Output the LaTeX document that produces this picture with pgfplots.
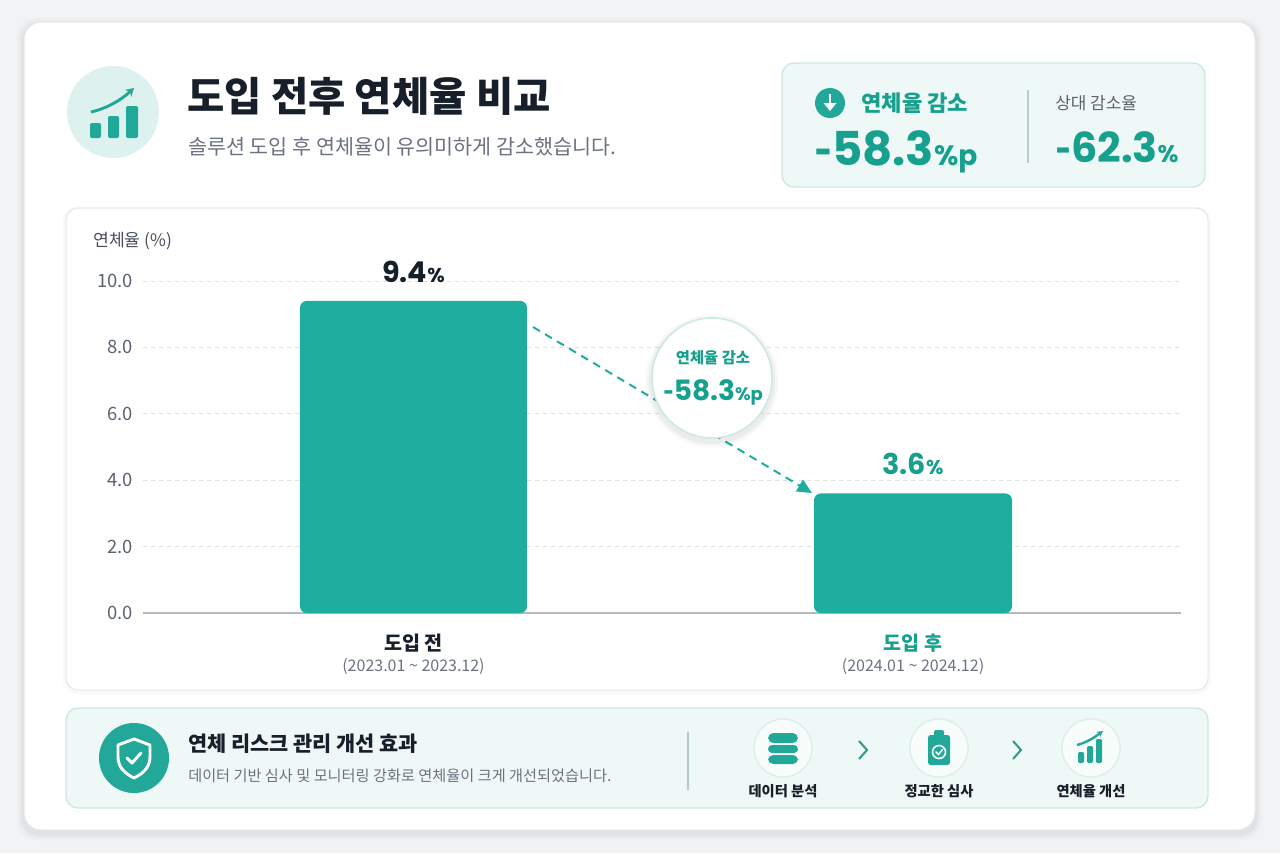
\documentclass[border=0pt]{standalone}
\usepackage{fontspec}
\setmainfont{Noto Sans CJK KR}
\newfontfamily\numfont{Poppins}
\usepackage{pgfplots}
\pgfplotsset{compat=1.18}
\usetikzlibrary{arrows.meta}
\definecolor{pagebg}{HTML}{F2F3F5}
\definecolor{cardline}{HTML}{E4E7EA}
\definecolor{tealbar}{HTML}{1DAE9F}
\definecolor{tealtxt}{HTML}{16A08D}
\definecolor{tealicon}{HTML}{21A898}
\definecolor{darktxt}{HTML}{17202A}
\definecolor{graytxt}{HTML}{6B7280}
\definecolor{ticktxt}{HTML}{5B6370}
\definecolor{softbg}{HTML}{EEF8F6}
\definecolor{softline}{HTML}{CBE8E1}
\definecolor{iconbg}{HTML}{DDF2EE}
\definecolor{gridc}{HTML}{DDE0E3}
\definecolor{basec}{HTML}{B5B9BE}
\newcommand\fs[1]{\fontsize{#1}{#1}\selectfont}
\newcommand\mn{{\rmfamily-}}
\begin{document}
\begin{tikzpicture}
\path[use as bounding box] (0pt,0pt) rectangle (960pt,-639.75pt);
\begin{scope}[x=0.75pt,y=-0.75pt]
\fill[pagebg] (0,0) rectangle (1280,853);
\foreach \d/\o in {7/0.015,5/0.02,3/0.03}{
  \fill[black,opacity=\o,rounded corners=14pt] (24-\d,22-\d+3) rectangle (1255+\d,830+\d+3);}
\fill[white,rounded corners=13pt] (24,22) rectangle (1255,830);
\draw[cardline,line width=0.75pt,rounded corners=13pt] (24,22) rectangle (1255,830);
% header icon
\fill[iconbg] (113,112) circle[radius=46];
\fill[tealicon,rounded corners=1.5pt] (90,123) rectangle (101,138);
\fill[tealicon,rounded corners=1.5pt] (108,116) rectangle (119,138);
\fill[tealicon,rounded corners=1.5pt] (126,106) rectangle (138,138);
\draw[tealicon,line width=2.2pt,-{Stealth[length=6pt,width=7pt]}] (91,112) .. controls (108,108) and (121,100) .. (134,88);
\node[anchor=west,inner sep=0,text=darktxt,font=\fs{30.4}\bfseries] at (187,96) {도입 전후 연체율 비교};
\node[anchor=west,inner sep=0,text=graytxt,font=\fs{15.5}] at (188,147) {솔루션 도입 후 연체율이 유의미하게 감소했습니다.};
% KPI box
\fill[softbg,rounded corners=9pt] (782,63) rectangle (1205,187);
\draw[softline,line width=1pt,rounded corners=9pt] (782,63) rectangle (1205,187);
\fill[tealicon] (830,103) circle[radius=15];
\draw[white,line width=2.2pt] (830,94) -- (830,105);
\fill[white] (823.5,103) -- (836.5,103) -- (830,111) -- cycle;
\node[anchor=west,inner sep=0,text=tealtxt,font=\fs{16.6}\bfseries] at (861,103) {연체율 감소};
\node[anchor=base west,inner sep=0,text=tealtxt,font=\numfont\bfseries\fs{35}] at (814,165) {\mn58.3{\fs{21}\%p}};
\draw[softline!75!gray,line width=0.9pt] (1028,90) -- (1028,163);
\node[anchor=west,inner sep=0,text=graytxt!85!black,font=\fs{12.7}] at (1055,103) {상대 감소율};
\node[anchor=base west,inner sep=0,text=tealtxt,font=\numfont\bfseries\fs{31}] at (1055,162) {\mn62.3{\fs{18}\%}};
% chart card
\fill[black,opacity=0.025,rounded corners=10pt] (63,207) rectangle (1211,694);
\fill[white,rounded corners=9pt] (66,208) rectangle (1208,690);
\draw[cardline,line width=0.75pt,rounded corners=9pt] (66,208) rectangle (1208,690);
\node[anchor=west,inner sep=0,text=ticktxt!80!black,font=\fs{12.9}] at (93,241) {연체율 (\%)};
% bottom box
\fill[softbg,rounded corners=9pt] (66,708) rectangle (1208,808);
\draw[softline,line width=1pt,rounded corners=9pt] (66,708) rectangle (1208,808);
\fill[tealicon] (134,758) circle[radius=35];
\draw[white,line width=2.2pt,line join=round] (134,739) -- (150,745) -- (150,757) .. controls (150,768) and (142,774) .. (134,778) .. controls (126,774) and (118,768) .. (118,757) -- (118,745) -- cycle;
\draw[white,line width=2.2pt,line cap=round,line join=round] (127,758) -- (132,763) -- (141,753);
\node[anchor=west,inner sep=0,text=darktxt,font=\fs{15.6}\bfseries] at (188,744) {연체 리스크 관리 개선 효과};
\node[anchor=west,inner sep=0,text=graytxt,font=\fs{11.4}] at (188,776) {데이터 기반 심사 및 모니터링 강화로 연체율이 크게 개선되었습니다.};
\draw[softline!70!gray,line width=0.8pt] (688,732) -- (688,790);
\foreach \cx in {783,939,1091}{
  \fill[white!60!softbg] (\cx,748) circle[radius=29];
  \draw[softline!70!white,line width=1pt] (\cx,748) circle[radius=29];}
% database icon
\fill[tealicon,rounded corners=4pt] (768,733) rectangle (798,743);
\fill[tealicon,rounded corners=3pt] (768,745) rectangle (798,753);
\fill[tealicon,rounded corners=4pt] (768,755) rectangle (798,764);
% clipboard icon
\fill[tealicon,rounded corners=2pt] (928,735) rectangle (950,765);
\fill[tealicon,rounded corners=1.5pt] (934,730) rectangle (944,737);
\draw[white,line width=1.2pt] (939,752) circle[radius=6.5];
\draw[white,line width=1.1pt,line cap=round] (936,752) -- (938.5,754.5) -- (942.5,749.5);
% chart icon
\fill[tealicon,rounded corners=1pt] (1078,752) rectangle (1084,763);
\fill[tealicon,rounded corners=1pt] (1087,746) rectangle (1093,763);
\fill[tealicon,rounded corners=1pt] (1096,739) rectangle (1102,763);
\draw[tealicon,line width=1.8pt,-{Stealth[length=4.5pt,width=5pt]}] (1077,745) .. controls (1088,742) and (1095,737) .. (1103,731);
\draw[tealtxt!75!gray,line width=1.5pt] (859,741) -- (867,750) -- (859,759);
\draw[tealtxt!75!gray,line width=1.5pt] (1013,741) -- (1021,750) -- (1013,759);
\node[inner sep=0,text=darktxt,font=\fs{10.7}\bfseries] at (783,791) {데이터 분석};
\node[inner sep=0,text=darktxt,font=\fs{10.7}\bfseries] at (939,791) {정교한 심사};
\node[inner sep=0,text=darktxt,font=\fs{10.7}\bfseries] at (1091,791) {연체율 개선};
\end{scope}
\begin{axis}[
  at={(107.25pt,-459.75pt)}, anchor=south west,
  scale only axis, width=778.5pt, height=249pt,
  xmin=-0.5415, xmax=1.5365, ymin=0, ymax=10,
  axis line style={draw=none},
  major tick length=0pt,
  ytick={0,2,4,6,8,10},
  ymajorgrids, grid style={gridc, dash pattern=on 3pt off 3pt, line width=0.7pt},
  yticklabel style={/pgf/number format/.cd, fixed, fixed zerofill, precision=1, assume math mode=true, /tikz/.cd, font=\fs{13.8}, text=ticktxt, xshift=-4pt},
  xtick={0,1},
  xticklabels={{\fontsize{14.7}{18}\selectfont\bfseries\color{darktxt}도입 전\\[3.75pt]\fontsize{12}{18}\selectfont\mdseries\color{graytxt}(2023.01 \textasciitilde{} 2023.12)},
               {\fontsize{14.7}{18}\selectfont\bfseries\color{tealtxt}도입 후\\[3.75pt]\fontsize{12}{18}\selectfont\mdseries\color{graytxt}(2024.01 \textasciitilde{} 2024.12)}},
  xticklabel style={align=center, anchor=north, inner sep=0pt, yshift=-15.75pt},
  clip=false,
]
\draw[basec, line width=1.2pt] (axis cs:-0.5415,0) -- (axis cs:1.5365,0);
\addplot[ybar, bar shift=0pt, bar width=170.25pt, fill=tealbar, draw=none, rounded corners=5pt,
  point meta=explicit symbolic,
  nodes near coords={\numfont\bfseries\fs{21.5}\pgfplotspointmeta{\fs{15}\%}},
  every node near coord/.append style={text=darktxt, anchor=south, inner sep=0pt, yshift=13.5pt}]
  coordinates {(0,9.4) [9.4]};
\addplot[ybar, bar shift=0pt, bar width=148.5pt, fill=tealbar, draw=none, rounded corners=5pt,
  point meta=explicit symbolic,
  nodes near coords={\numfont\bfseries\fs{21.5}\pgfplotspointmeta{\fs{15}\%}},
  every node near coord/.append style={text=tealtxt, anchor=south, inner sep=0pt, yshift=13.5pt}]
  coordinates {(1,3.6) [3.6]};
\end{axis}
\begin{scope}[x=0.75pt,y=-0.75pt]
\draw[tealbar, line width=1.5pt, dash pattern=on 6pt off 4.5pt, -{Triangle[length=11pt,width=10pt]}] (533,327) -- (812,493);
\foreach \r/\o in {67/0.015,65/0.025,63/0.035}{
  \fill[black,opacity=\o] (712,381) circle[radius=\r];}
\fill[white] (712,378) circle[radius=60];
\draw[softline,line width=1.1pt] (712,378) circle[radius=60];
\node[inner sep=0,text=tealtxt,font=\fs{11.5}\bfseries] at (713,358) {연체율 감소};
\node[anchor=base,inner sep=0,text=tealtxt,font=\numfont\bfseries\fs{21}] at (713,400) {\mn58.3{\fs{13.5}\%p}};
\end{scope}
\end{tikzpicture}
\end{document}
